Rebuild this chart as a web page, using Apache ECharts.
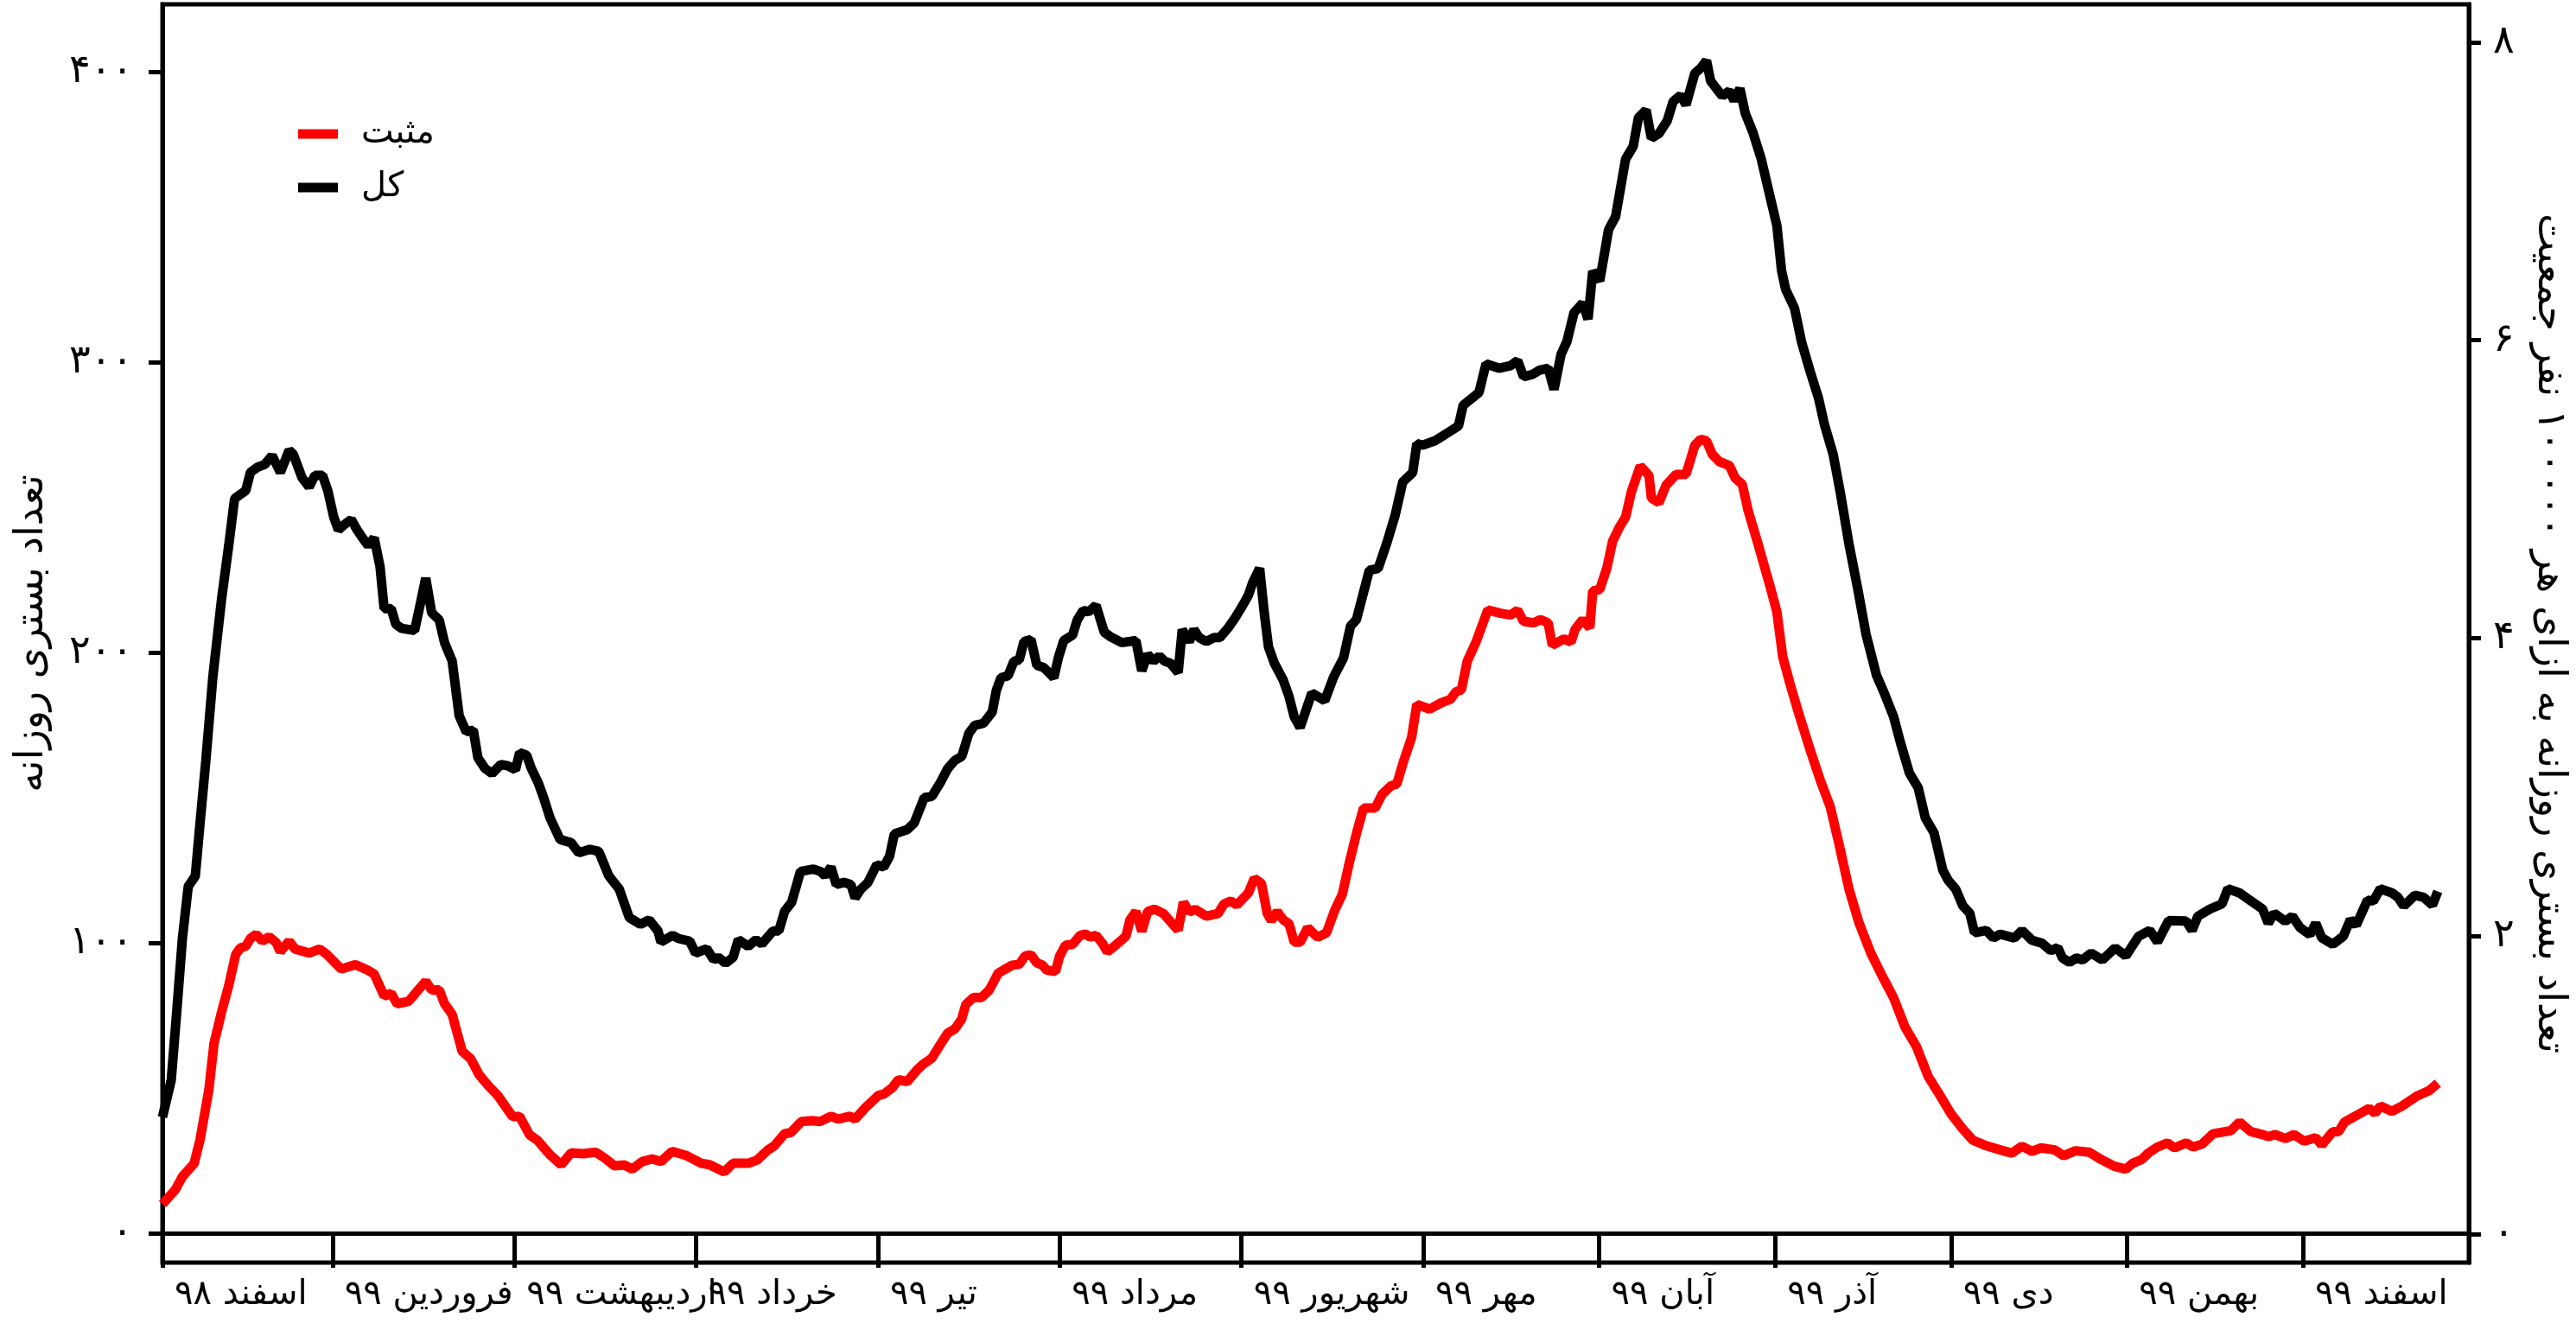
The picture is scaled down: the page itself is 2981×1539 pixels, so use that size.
<!DOCTYPE html>
<html>
<head>
<meta charset="utf-8">
<script src="https://cdn.jsdelivr.net/npm/echarts@6/dist/echarts.min.js"></script>
<style>
html, body { margin: 0; padding: 0; background: #fff; }
#chart { width: 2981px; height: 1539px; }
</style>
</head>
<body>
<div id="chart"></div>
<script>
// روز از اول اسفند ۹۸
var monthStarts = [0, 29, 60, 91, 122, 153, 184, 215, 245, 275, 305, 335, 365];
var monthLabels = ['اسفند ۹۸', 'فروردین ۹۹', 'اردیبهشت ۹۹', 'خرداد ۹۹', 'تیر ۹۹', 'مرداد ۹۹',
  'شهریور ۹۹', 'مهر ۹۹', 'آبان ۹۹', 'آذر ۹۹', 'دی ۹۹', 'بهمن ۹۹', 'اسفند ۹۹'];

var leftTicks = [0, 100, 200, 300, 400];
var leftTickLabels = ['۰', '۱۰۰', '۲۰۰', '۳۰۰', '۴۰۰'];
var rightTicks = [0, 2, 4, 6, 8];
var rightTickLabels = ['۰', '۲', '۴', '۶', '۸'];

// کل
var totalDays = [0, 1.5, 2.5, 3.4, 4.4, 5.6, 6.4, 7.4, 8.6, 10.1, 11.3, 12.3, 13, 14.2, 15, 16.2, 17.4, 18.7, 20.1, 21.6,
  22.3, 23.8, 25, 26, 27.3, 28.2, 29.2, 30, 31, 32.2, 33.2, 34.1, 35.1, 36.1, 37.1, 37.8, 39, 39.8, 40.8, 43,
  44, 44.9, 45.9, 47.2, 48.1, 49.4, 50.6, 51.8, 53, 53.8, 55, 56.2, 57.7, 58.9, 60.2, 60.9, 62.1, 62.9, 64.1, 65,
  66.1, 67.8, 69.7, 71, 72.9, 74.4, 76.1, 77.9, 79.6, 81.5, 83, 84.5, 85, 87, 88, 89.9, 90.9, 92.8, 94, 94.8,
  96, 97.3, 98.2, 99.9, 101.2, 102.2, 104.1, 105.1, 106.1, 107.3, 108.8, 111, 112.2, 113, 114, 114.9, 116.2, 117.4, 118.1, 119.1,
  120.3, 121.8, 123, 124, 124.8, 127, 128.2, 129.9, 131.2, 132.6, 133.9, 135.1, 136.3, 137.5, 138.5, 140, 141.5, 142.2, 143, 144.2,
  145.2, 146.1, 146.9, 148.1, 149.1, 150.3, 152, 152.8, 153.7, 155.2, 156, 157, 157.9, 159.2, 160.6, 161.6, 163.6, 166, 167, 168,
  169, 170, 170.9, 171.9, 173.2, 173.9, 175.1, 175.9, 176.8, 178, 179.3, 180.3, 181.7, 183, 184.2, 185.2, 185.9, 187.1, 187.9, 188.6,
  189.6, 191.1, 192.1, 193, 194, 196, 198.2, 199.7, 201.4, 202.6, 203.6, 205.8, 207.3, 208.8, 210.2, 211.5, 213.2, 213.9, 214.9, 217.1,
  218.8, 221, 221.8, 224.5, 225.7, 227.9, 229.9, 231.1, 232.1, 233.6, 234.8, 236.3, 237.3, 238.5, 239.5, 240.7, 242.2, 243.1, 243.9, 245.1,
  246.6, 247.8, 249.5, 250.8, 251.7, 253, 253.9, 255.2, 256.6, 257.6, 258.9, 259.8, 261.3, 262.3, 263.3, 264, 264.8, 266, 267.2, 268,
  269, 269.9, 271.2, 272.6, 274.1, 275.3, 276.1, 276.8, 278.3, 279.5, 281, 282.4, 283.4, 284.9, 286.1, 287.6, 289.1, 290.5, 292.3, 293.7,
  295.2, 296.4, 297.9, 299.4, 300.6, 302.1, 303.6, 304.5, 305.8, 307, 308.2, 309, 311, 312.2, 313.4, 315.8, 317.1, 318.8, 320.5, 322,
  323.2, 324, 325.2, 326.4, 327.4, 328.9, 330.8, 333, 334.8, 337, 338.9, 340.2, 342.1, 345.1, 346.1, 347.1, 349.2, 351.2, 352.2, 354.2,
  355.6, 358.1, 359.1, 360.1, 362, 363.2, 364.5, 366.2, 367.2, 368.2, 370.1, 371.9, 373.1, 374.1, 376, 377, 378.2, 380.2, 381.2, 382.2,
  384.1, 385.6, 387.1, 388];
var totalVals = [40, 52.8, 78, 101.5, 119.5, 123, 141, 162.8, 191.7, 218.7, 236.8, 253, 254, 255.7, 262, 263.8, 264.7, 267.8, 262, 269.6,
  268.3, 260.2, 257, 261, 261, 255.7, 246.7, 242.2, 244, 245.8, 242.2, 239.5, 236.8, 239.5, 229.6, 215.1, 215.1, 209.7, 208.3, 207.6,
  217, 225.6, 213.7, 211.2, 203.4, 197.1, 178.2, 172.7, 173.3, 163.7, 160.1, 158.3, 161.4, 161, 159.6, 165.5, 164.6, 160.1, 155, 150,
  143, 135.6, 134.5, 131, 132.2, 131.5, 123.1, 118.5, 108.7, 106.4, 107.9, 104.1, 100.3, 102.6, 101.5, 100.6, 96.5, 98, 94.2, 95,
  93, 95, 101.1, 98.8, 101.1, 99.6, 104.1, 104.1, 110.9, 114, 124.6, 125.4, 124.6, 123.1, 126.1, 120.1, 120.8, 120.1, 115.5, 118.5,
  120.8, 126.9, 126.1, 129.9, 137.5, 139, 141.3, 150, 150.4, 155, 160, 162.8, 164.2, 172.1, 174.9, 175.6, 179.5, 187, 191.3, 192,
  197, 197.4, 203.7, 204.5, 195.6, 194.8, 191.3, 198.4, 204.1, 206, 211.2, 214.5, 214, 216.2, 207, 205.5, 203.4, 204.1, 193.7, 199.4,
  197, 198.8, 197, 196.3, 193.1, 207.9, 203.7, 207.9, 205.1, 203.8, 205.1, 205.1, 208.4, 212.2, 216.2, 219.8, 224, 229, 213.4, 202,
  196.3, 190.6, 184.9, 177.8, 174.2, 186, 183.4, 191.5, 198.1, 209.1, 211.3, 228.3, 228.9, 237.8, 247.2, 258.7, 262, 271.9, 271.4, 273,
  275.2, 278, 285.1, 289.5, 299.4, 297.9, 298.8, 300.5, 295, 295.7, 297.2, 297.9, 290.6, 302.7, 307.1, 317, 320.3, 314.8, 331.3, 328,
  345.6, 350.1, 369.9, 374.3, 384.2, 386.8, 377.1, 378.7, 383.1, 389.7, 391.9, 388.6, 399.4, 401.2, 403.8, 396.8, 394.7, 391.6, 393.4, 390.1,
  394.2, 385.7, 379.2, 370.2, 357.3, 347, 331.5, 325, 318.6, 307, 296.6, 287.6, 278.6, 268.2, 255.3, 237.3, 221.8, 206.3, 192.1, 185.6,
  177.9, 168.8, 158.5, 153.4, 143.1, 137.9, 125, 121.6, 118.5, 112.8, 110.2, 103.5, 104.3, 101.7, 103, 101.7, 104.3, 100.9, 99.9, 97.3,
  98.4, 94.8, 93.3, 94.8, 94.1, 96.5, 94.1, 98.3, 95.5, 102.3, 104.3, 100.3, 107.7, 107.5, 104.3, 109.2, 111.7, 113.4, 118.6, 117.2,
  115.2, 111.7, 106.8, 110.2, 107.4, 109.2, 105.3, 102.8, 106.8, 101.8, 99.5, 102.3, 108, 106.1, 114.7, 114.4, 118.6, 117.2, 115.7, 112.7,
  116.4, 115.7, 113, 117.7];

// مثبت
var positiveDays = [0, 2.2, 3.4, 5.4, 6.4, 7.9, 8.8, 10.1, 11.3, 12.5, 13.3, 14.2, 15, 16, 17, 18.2, 19.4, 20.1, 21.6, 22.6,
  25, 26.8, 28, 30.5, 32.9, 34.9, 36.1, 37.8, 39, 40, 42, 43.5, 44.9, 45.9, 47.2, 48.1, 49.4, 51.1, 52.6, 54,
  55.5, 57.2, 59.7, 60.9, 62.6, 63.9, 66.1, 68, 69.7, 71.7, 73.9, 75.4, 77.1, 78.8, 80.1, 81.8, 83.5, 85, 86.9, 89.4,
  91.9, 93.3, 95.8, 97.3, 99.9, 101.4, 103.2, 104.4, 106.1, 107.1, 109, 110.8, 112.2, 114, 115.2, 117.2, 118.1, 119.8, 122.1, 123,
  124.5, 125.5, 127, 128.7, 129.7, 131.2, 132.4, 133.9, 135.1, 136.3, 137, 138.3, 139.7, 141, 142.5, 143.4, 144.9, 146.1, 147.1, 148.1,
  149.1, 150.1, 150.8, 152.3, 153, 154, 155.2, 156.5, 157.4, 158.2, 159.2, 160.4, 161.1, 162.3, 164.3, 165, 166, 167, 168, 169.2,
  170.7, 171.9, 173.2, 174.1, 175.1, 176.1, 178, 180, 181, 182.2, 183.2, 185.2, 186.2, 187.4, 188.4, 189.1, 190.1, 191.1, 192.1, 193,
  194, 195.3, 197, 198.5, 199.9, 201.2, 202.4, 203.6, 204.8, 206.8, 208, 209.5, 210.5, 211.7, 213, 213.9, 216.1, 218.1, 219.6, 220.6,
  221.5, 222.5, 224, 226, 228.2, 229.9, 231.1, 232.1, 233.8, 235, 236.3, 237, 239, 240.2, 240.9, 242.2, 243.4, 243.9, 245.1, 246.3,
  247.3, 248.5, 249.5, 250.5, 252, 253.5, 253.9, 255.2, 256.4, 258.1, 259.8, 261.3, 262.3, 263.3, 264.3, 265.5, 267.2, 268.2, 269.4, 270.4,
  272.1, 274.1, 275.3, 276.3, 277.5, 279, 281, 282.7, 284.4, 285.9, 287.6, 289.3, 291.3, 293.2, 295.2, 297.2, 299.1, 301.1, 303.1, 305,
  307, 308.7, 310.9, 313.4, 315.4, 317.1, 318.8, 320.3, 322.7, 324.2, 326.2, 328.6, 330.6, 332.8, 334.8, 336, 337.5, 338.7, 340.2, 341.9,
  343.1, 345.1, 346.3, 347.8, 349.7, 352.7, 354.2, 356.1, 358.1, 359.1, 360.3, 362, 363.5, 365.2, 367.2, 368.2, 370.1, 371.1, 372.1, 374.8,
  376.3, 377.3, 378.2, 380.2, 381.9, 384.4, 386.6, 388];
var positiveVals = [10, 15, 19.5, 24, 32.1, 49.2, 65.5, 76.3, 85.3, 96.1, 98.3, 98.8, 101.5, 103, 100.6, 102.1, 100.1, 97, 100.6, 97.9,
  96.5, 97.9, 96.1, 91, 92.5, 90.7, 89.3, 81.7, 82.6, 79, 79.9, 83.5, 86.7, 83.8, 83.8, 79, 75.4, 62.7, 60, 54.6,
  51, 47.4, 40.2, 40.2, 33.9, 32.1, 27, 23.6, 27.7, 27.4, 27.9, 25.9, 23.2, 23.5, 22.1, 24.7, 25.6, 24.7, 28.2, 26.7,
  24.1, 23.6, 21.1, 24.1, 24.1, 25.2, 28.6, 30.2, 34.3, 34.6, 38.5, 38.8, 38.5, 40.3, 39.3, 40.3, 39.3, 43.1, 47.5, 47.9,
  50.2, 52.9, 52.2, 56.3, 58.2, 60.3, 64.2, 68.9, 70.3, 73.8, 78.8, 81.2, 81.2, 83.8, 89.5, 90.6, 92.3, 92.6, 95.5, 95.9,
  93.1, 92.3, 90.6, 90.2, 95.5, 99.2, 99.5, 102.6, 103, 102, 102.6, 99.5, 96.9, 98.8, 102.3, 108, 110.8, 104, 110.8, 111.6,
  110.1, 107.3, 104.4, 114, 110.6, 111.6, 109.2, 110.1, 113.4, 114.4, 113, 117.3, 122.2, 120.5, 110.1, 107.7, 110.8, 108, 106.6, 100.2,
  100.2, 105.2, 101.9, 103.5, 111.2, 116.7, 127.7, 137.6, 146.4, 146.4, 151.2, 154.1, 154.7, 162.9, 170.6, 182.1, 180.5, 182.7, 183.8, 186.5,
  187.1, 197, 203.6, 214.6, 213.5, 212.9, 214.6, 210.7, 210.2, 211.3, 210.2, 202.5, 204.7, 203.6, 208, 211.3, 208.5, 221.2, 221.7, 229,
  238.4, 243.3, 246.6, 255.4, 264.2, 260.9, 253.2, 251.6, 257.6, 261.3, 261.3, 271.3, 273.4, 272.9, 268.2, 265.7, 264.4, 260, 257.9, 248.9,
  237.3, 223.1, 214, 198.5, 189.5, 179.2, 166.3, 156, 146.9, 134, 118.5, 106.9, 96.6, 88.8, 81.1, 70.8, 64.3, 54, 47.5, 41.1,
  35.9, 32.1, 30.2, 28.7, 27.6, 30, 28.2, 29.4, 28.7, 26.7, 28.4, 27.9, 25.4, 23.1, 22.1, 24.1, 25.4, 27.7, 29.7, 31.1,
  29.4, 31.1, 29.7, 30.7, 34.3, 35.3, 38.3, 35, 34, 33.3, 34, 32.6, 34, 31.7, 32.9, 30.4, 35, 35, 38.3, 41.3,
  43, 41.3, 43.8, 42, 43.8, 47.2, 49.2, 51.7];

var fontName = 'DejaVu Sans';

function pairs(xs, ys) {
  return xs.map(function (x, i) { return [x, ys[i]]; });
}
function pick(vals, labels) {
  return function (v) {
    var i = vals.indexOf(Math.round(v * 1000) / 1000);
    return i < 0 ? '' : labels[i];
  };
}

var option = {
  animation: false,
  backgroundColor: '#fff',
  textStyle: { fontFamily: fontName, color: '#000' },
  grid: {
    left: 188, right: 121, top: 5, bottom: 78,
    show: true, borderColor: '#000', borderWidth: 5
  },
  legend: {
    left: 340, top: 130,
    orient: 'vertical',
    icon: 'rect',
    itemWidth: 46, itemHeight: 11,
    itemGap: 22,
    textStyle: { fontFamily: fontName, fontSize: 40, color: '#000', padding: [0, 0, 0, 22] },
    data: ['مثبت', 'کل']
  },
  xAxis: {
    type: 'value',
    min: 0, max: 393.3,
    splitLine: { show: false },
    axisLine: { lineStyle: { color: '#000', width: 5 } },
    axisTick: {
      customValues: monthStarts,
      length: 40,
      lineStyle: { color: '#000', width: 5 }
    },
    axisLabel: {
      customValues: monthStarts,
      formatter: pick(monthStarts, monthLabels),
      align: 'left',
      padding: [0, 0, 0, 14],
      margin: 18,
      fontFamily: fontName, fontSize: 40, color: '#000'
    }
  },
  yAxis: [
    {
      type: 'value',
      position: 'left',
      min: -10.1, max: 423.2,
      name: 'تعداد بستری روزانه',
      nameLocation: 'middle',
      nameRotate: 90,
      nameGap: 128,
      nameTextStyle: { fontFamily: fontName, fontSize: 46, color: '#000' },
      splitLine: { show: false },
      axisLine: { show: true, lineStyle: { color: '#000', width: 5 } },
      axisTick: { customValues: leftTicks, length: 16, lineStyle: { color: '#000', width: 5 } },
      axisLabel: {
        customValues: leftTicks,
        formatter: pick(leftTicks, leftTickLabels),
        margin: 34,
        fontFamily: fontName, fontSize: 46, color: '#000'
      }
    },
    {
      type: 'value',
      position: 'right',
      min: -0.191, max: 8.254,
      name: 'تعداد بستری روزانه به ازای هر ۱۰۰۰۰۰ نفر جمعیت',
      nameLocation: 'middle',
      nameRotate: -90,
      nameGap: 70,
      nameTextStyle: { fontFamily: fontName, fontSize: 46, color: '#000' },
      splitLine: { show: false },
      axisLine: { show: true, lineStyle: { color: '#000', width: 5 } },
      axisTick: { customValues: rightTicks, length: 14, lineStyle: { color: '#000', width: 5 } },
      axisLabel: {
        customValues: rightTicks,
        formatter: pick(rightTicks, rightTickLabels),
        margin: 28,
        fontFamily: fontName, fontSize: 46, color: '#000'
      }
    }
  ],
  series: [
    {
      name: 'مثبت',
      type: 'line',
      yAxisIndex: 0,
      showSymbol: false,
      color: '#ff0000',
      lineStyle: { color: '#ff0000', width: 11 },
      data: pairs(positiveDays, positiveVals),
      z: 3
    },
    {
      name: 'کل',
      type: 'line',
      yAxisIndex: 0,
      showSymbol: false,
      color: '#000000',
      lineStyle: { color: '#000000', width: 11 },
      data: pairs(totalDays, totalVals),
      z: 2
    }
  ]
};

var chart = echarts.init(document.getElementById('chart'));
chart.setOption(option);
window.onresize = function () {
  chart.resize();
};
</script>
</body>
</html>
